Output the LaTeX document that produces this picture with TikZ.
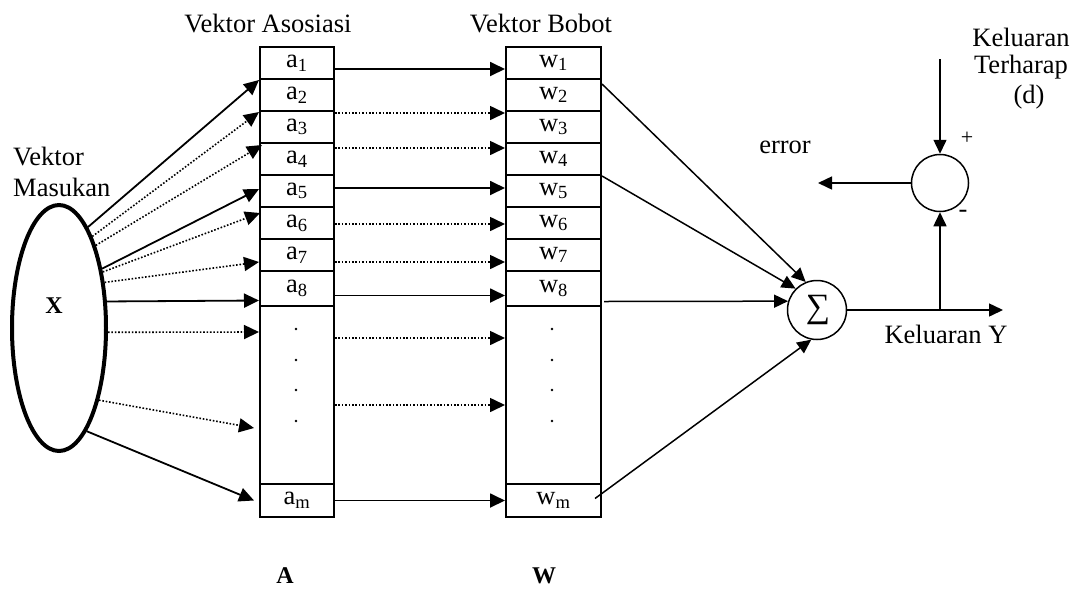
\documentclass[tikz,border=0pt]{standalone}
\usepackage{fontspec}
\setmainfont{Liberation Serif}
\usetikzlibrary{arrows.meta,shapes.geometric}

\tikzset{
  txt/.style={font=\fontsize{26.5}{31}\selectfont},
  boldtxt/.style={font=\bfseries\fontsize{24}{29}\selectfont},
  cell/.style={draw, line width=2pt, inner sep=0pt, anchor=north west, txt},
  acell/.style={cell, minimum width=74pt},
  wcell/.style={cell, minimum width=95pt},
  tip/.style={-{Triangle[length=15pt,width=14pt]}},
  solidarrow/.style={tip, line width=1.8pt},
  dotarrow/.style={tip, line width=1.6pt, dash pattern=on 1.6pt off 1.8pt},
  sumarrow/.style={-{Triangle[length=14pt,width=13pt]}, line width=1.5pt},
  junction/.style={draw, circle, line width=1.5pt, inner sep=0pt},
  dotmark/.style={fill, circle, inner sep=0pt, minimum size=2.8pt},
}

\begin{document}
\begin{tikzpicture}[x=1pt, y=-1pt]
\useasboundingbox (0,0) rectangle (1078,590);

% column titles
\node[txt] (va) at (268,24) {Vektor Asosiasi};
\node[txt] (vb) at (541,24) {Vektor Bobot};
\node[txt, align=left, anchor=west, inner sep=0pt] (vm) at (13,172) {Vektor\\Masukan};

% input ellipse
\node[draw, ellipse, line width=4pt, minimum width=94pt, minimum height=246pt, inner sep=0pt] (X) at (59,328) {};
\node[boldtxt] (xlab) at (54,306) {X};

% association and weight vectors
\foreach \i/\t/\h in {1/46/32,2/78/32,3/110/32,4/142/32,5/174/32,6/206/32,7/238/32,8/270/35}{
  \node[acell, minimum height=\h pt] (a\i) at (259,\t) {a\textsubscript{\i}};
  \node[wcell, minimum height=\h pt] (w\i) at (505,\t) {w\textsubscript{\i}};
}
\node[acell, minimum height=178pt] (adots) at (259,305) {};
\node[wcell, minimum height=178pt] (wdots) at (505,305) {};
\node[acell, minimum height=33pt] (am) at (259,483) {a\textsubscript{m}};
\node[wcell, minimum height=33pt] (wm) at (505,483) {w\textsubscript{m}};

\foreach \y [count=\k] in {329,360,390,421}{
  \node[dotmark] (ad\k) at (296,\y) {};
  \node[dotmark] (wd\k) at (552,\y) {};
}

% input to association cells
\draw[solidarrow] (X.74) -- (a1.south west);
\draw[dotarrow] (X.70) -- (a2.south west);
\draw[dotarrow] (X.66) -- ([xshift=3pt,yshift=-3pt]a4.north west);
\draw[solidarrow] (X.54) -- ([yshift=2pt]a5.west);
\draw[dotarrow] (X.52) -- ([xshift=1pt,yshift=-7pt]a6.north west);
\draw[dotarrow] (X.45) -- ([yshift=-7pt]a7.west);
\draw[solidarrow] (X.29) -- ([yshift=-12pt]a8.west);
\draw[dotarrow] (X.-5) -- ([yshift=-27pt]adots.north west);
\draw[dotarrow] (X.-61) -- ([xshift=-5pt,yshift=-123pt]adots.north west);
\draw[solidarrow] (X.-75) -- ([xshift=-5pt]am.west);

% association cells to weights
\draw[solidarrow] ([yshift=-6pt]a1.east) -- ([yshift=-6pt]w1.west);
\draw[dotarrow] ([yshift=-1pt]a2.south east) -- ([yshift=-1pt]w2.south west);
\draw[dotarrow] ([yshift=-6pt]a4.north east) -- ([yshift=-6pt]w4.north west);
\draw[solidarrow] ([yshift=3pt]a5.east) -- ([yshift=3pt]w5.west);
\draw[dotarrow] ([yshift=-1pt]a6.east) -- ([yshift=-1pt]w6.west);
\draw[dotarrow] ([yshift=-7pt]a7.east) -- ([yshift=-7pt]w7.west);
\draw[solidarrow] ([yshift=-7pt]a8.east) -- ([yshift=-7pt]w8.west);
\draw[dotarrow] ([yshift=-33pt]adots.north east) -- ([yshift=-33pt]wdots.north west);
\draw[dotarrow] ([yshift=-100pt]adots.north east) -- ([yshift=-100pt]wdots.north west);
\draw[solidarrow] (am.east) -- (wm.west);

% summing junction
\node[junction, minimum size=59pt] (S) at (817,310) {};
\node[font=\fontsize{34}{34}\selectfont, inner sep=0pt] (sig) at (818,310) {\char"2211};
\draw[sumarrow] ([yshift=-4pt]w1.south east) -- (S.112);
\draw[sumarrow] (w4.south east) -- (S.135);
\draw[sumarrow] ([xshift=2pt,yshift=-13pt]w8.east) -- (S.163);
\draw[sumarrow] ([xshift=-7pt,yshift=2pt]wm.east) -- (S.-101);

% output and error comparison
\coordinate (tap) at (940,310);
\coordinate (yout) at (1003,310);
\coordinate (dtop) at (940,59);
\coordinate (errend) at (818,183);
\node[junction, minimum size=57pt] (E) at (940,183) {};
\draw[sumarrow] (S.east) -- (yout);
\draw[sumarrow] (tap) -- (E.south);
\draw[sumarrow] (dtop) -- (E.north);
\draw[sumarrow] (E.west) -- (errend);

\node[txt] (lblY) at (946,334) {Keluaran Y};
\node[txt] (lblerr) at (785,147) {error};
\node[txt, font=\fontsize{22}{26}\selectfont] (plus) at (967,138) {+};
\node[txt] (minus) at (963,214) {-};
\node[txt] (k1) at (1021,37) {Keluaran};
\node[txt] (k2) at (1021,67) {Terharap};
\node[txt] (k3) at (1029,97) {(d)};

% column letters
\node[boldtxt, inner sep=0pt] (lA) at (285,576) {A};
\node[boldtxt, inner sep=0pt] (lW) at (544,576) {W};
\end{tikzpicture}
\end{document}
